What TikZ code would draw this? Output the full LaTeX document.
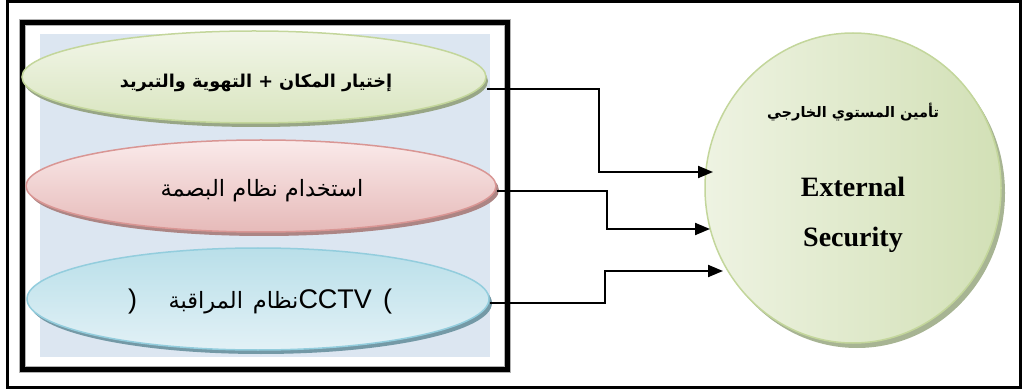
\documentclass[tikz,border=0pt]{standalone}
\usepackage{fontspec}
\setmainfont{Liberation Sans}
\newfontfamily\arab[Script=Arabic]{DejaVu Sans}
\newfontfamily\engserif{Liberation Serif}
\TeXXeTstate=1
\usetikzlibrary{shapes.geometric,shadows,arrows.meta,calc}

\definecolor{panelbg}{HTML}{DCE6F1}
\definecolor{grnB}{HTML}{C3D69B}
\definecolor{grnL}{HTML}{F2F6E8}
\definecolor{grnD}{HTML}{D9E5C0}
\definecolor{grnS}{HTML}{98A686}
\definecolor{redB}{HTML}{D99694}
\definecolor{redL}{HTML}{FAEAEA}
\definecolor{redD}{HTML}{E6BAB9}
\definecolor{redS}{HTML}{AC8584}
\definecolor{bluB}{HTML}{93CDDD}
\definecolor{bluL}{HTML}{E2F1F6}
\definecolor{bluD}{HTML}{B9DFE9}
\definecolor{bluS}{HTML}{7499A6}
\definecolor{cirL}{HTML}{EEF3E2}
\definecolor{cirD}{HTML}{D2E0B6}
\definecolor{cirS}{HTML}{A7B493}

\tikzset{
  oval/.style={ellipse, inner sep=0pt, line width=1.5pt},
  conn/.style={line width=2pt, -{Triangle[length=15pt,width=12pt]}},
  frame/.style={line width=3pt},
  word/.style={inner sep=0pt, outer sep=0pt},
  arabtxt/.style={word, font=\arab\fontsize{22.5}{26}\selectfont},
  lattxt/.style={word, font=\fontsize{27}{30}\selectfont},
}

\begin{document}
\begin{tikzpicture}[x=1pt,y=-1pt]
\useasboundingbox (0,0) rectangle (1023,390);

% outer frame
\draw[frame] (7.5,1.5) rectangle (1020.5,387.5);

% left panel: tinted background and heavy border
\fill[panelbg] (40,34) rectangle (490,357);
\draw[gray!60, line width=7pt] (22.5,22.5) rectangle (507,369.5);
\draw[line width=5pt] (22.5,22.5) rectangle (507,369.5);

% the three measures
\node[oval, draw=grnB, top color=grnL, bottom color=grnD,
      minimum width=464pt, minimum height=92pt,
      general shadow={fill=grnS, shadow xshift=2pt, shadow yshift=-4pt}]
  (sel) at (254,77) {};
\node[word, anchor=base] (seltxt) at (256,88)
  {\arab\bfseries\fontsize{17.7}{20}\selectfont\beginR إختيار  المكان + التهوية والتبريد\endR};

\node[oval, draw=redB, top color=redL, bottom color=redD,
      minimum width=470pt, minimum height=92pt,
      general shadow={fill=redS, shadow xshift=3pt, shadow yshift=-4pt}]
  (fing) at (261,186) {};
\node[arabtxt, anchor=base] (fingtxt) at (262,197)
  {\beginR استخدام نظام البصمة\endR};

\node[oval, draw=bluB, top color=bluD, bottom color=bluL,
      minimum width=462pt, minimum height=102pt,
      general shadow={fill=bluS, shadow xshift=3pt, shadow yshift=-4pt}]
  (cctv) at (258,299) {};
% its label, set word by word from left to right
\node[lattxt, anchor=base west] (cpar1) at (128,308) {)};
\node[lattxt, anchor=base east] (cpar2) at (392,308) {(};
\node[lattxt, anchor=base east] (ccode) at (372,308) {CCTV};
\node[arabtxt, anchor=base east] (cnizam) at (ccode.base west) {نظام};
\node[arabtxt, anchor=base east] (cmur) at ($(cnizam.base west)+(-10,0)$) {المراقبة};

% target
\node[oval, draw=grnB, left color=cirL, right color=cirD,
      minimum width=296pt, minimum height=310pt,
      general shadow={fill=cirS, shadow xshift=4pt, shadow yshift=-5pt}]
  (ext) at (853,188) {};
\node (extar) at (853,112)
  {\arab\bfseries\fontsize{14.5}{17}\selectfont\beginR تأمين المستوي الخارجي\endR};
\node (exten1) at (853,187) {\engserif\bfseries\fontsize{28}{31}\selectfont External};
\node (exten2) at (853,240) {\engserif\bfseries\fontsize{28}{31}\selectfont Security};

% connectors
\draw[conn] ($(sel.east)+(0,12)$) -| (599,172) -- ($(ext.center)+(-140,-16)$);
\draw[conn] ($(fing.east)+(0,5)$) -| (607,229) -- ($(ext.center)+(-143,41)$);
\draw[conn] ($(cctv.east)+(0,4)$) -| (605,271) -- ($(ext.center)+(-130,83)$);
\end{tikzpicture}
\end{document}
